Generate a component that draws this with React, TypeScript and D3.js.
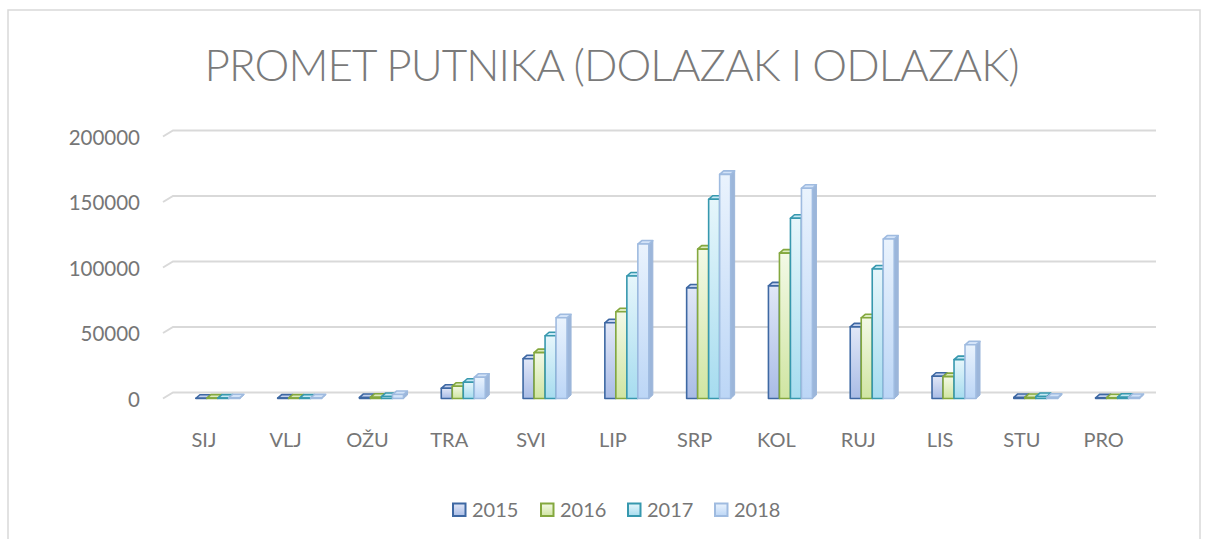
import React from "react";
import * as d3 from "d3";

const months = ["SIJ", "VLJ", "OŽU", "TRA", "SVI", "LIP", "SRP", "KOL", "RUJ", "LIS", "STU", "PRO"];
const years = ["2015", "2016", "2017", "2018"];
const v2015 = [200, 300, 800, 7800, 30400, 57800, 84400, 86000, 54700, 17000, 800, 500];
const v2016 = [300, 300, 900, 9400, 35000, 66200, 114000, 111000, 61600, 16700, 800, 600];
const v2017 = [300, 300, 1500, 12400, 47900, 93500, 152100, 137600, 98900, 29700, 1500, 1000];
const v2018 = [600, 500, 3000, 16200, 61600, 117900, 171100, 160500, 121700, 41000, 900, 800];
const series = [v2015, v2016, v2017, v2018];
const yTicks = [0, 50000, 100000, 150000, 200000];

const styles = [
  { stroke: "#3e68a3", top: "#e1e7f7", bottom: "#a9bce6", side: "#6f8fc4", cap: "#c2d0ee" },
  { stroke: "#84a83f", top: "#f3f9e6", bottom: "#d0e5a2", side: "#a9c76a", cap: "#dcebbd" },
  { stroke: "#3798ae", top: "#e6f6fb", bottom: "#a6dcef", side: "#5fb3c6", cap: "#c5e9f4" },
  { stroke: "#9fbbe0", top: "#eaf3fd", bottom: "#bcd6f6", side: "#9cb6da", cap: "#d3e3f8" },
];

export default function App() {
  const W = 1205, H = 539;
  const frontX0 = 163, frontX1 = 1144.5;
  const depthX = 10, depthY = -6;
  const y = d3.scaleLinear().domain([0, 200000]).range([398.5, 136.5]);
  const x = d3.scaleBand().domain(months).range([frontX0, frontX1]).padding(0);
  const barW = 11, bdx = 4, bdy = -3.5;
  const gray = "#767676";
  const font = "Lato, 'Open Sans', sans-serif";

  return (
    <svg width={W} height={H} style={{ position: "absolute", left: 0, top: 0, background: "#fff" }}>
      <defs>
        {styles.map((s, i) => (
          <linearGradient key={i} id={`g${i}`} x1="0" y1="0" x2="0" y2="1">
            <stop offset="0" stopColor={s.top} />
            <stop offset="1" stopColor={s.bottom} />
          </linearGradient>
        ))}
      </defs>
      <rect x={8} y={10} width={1192} height={540} fill="#fff" stroke="#d9d9d9" strokeWidth={1.5} />
      <text x={612} y={81} textAnchor="middle" fontFamily={font} fontWeight={300} fontSize={44} fill="#7a7a7a"
        textLength={815} lengthAdjust="spacing">PROMET PUTNIKA (DOLAZAK I ODLAZAK)</text>

      {yTicks.map((t) => {
        const yf = y(t);
        return (
          <g key={t}>
            <polyline points={`${frontX0},${yf} ${frontX0 + depthX},${yf + depthY} 1156,${yf + depthY}`}
              fill="none" stroke="#d9d9d9" strokeWidth={2} />
            <text x={140} y={yf + 8} textAnchor="end" fontFamily={font} fontSize={20.5} fill={gray}>{t}</text>
          </g>
        );
      })}

      {months.map((m, ci) => {
        const cx = (x(m) as number) + x.bandwidth() / 2;
        return (
          <g key={m}>
            {series.map((vals, si) => {
              const s = styles[si];
              const x0 = cx - 8 + si * barW;
              const x1 = x0 + barW;
              const yt = y(vals[ci]);
              const yb = y(0);
              return (
                <g key={si} stroke={s.stroke} strokeWidth={1.6} strokeLinejoin="round">
                  <polygon points={`${x1},${yt} ${x1 + bdx},${yt + bdy} ${x1 + bdx},${yb + bdy} ${x1},${yb}`}
                    fill={s.side} stroke={s.side} strokeWidth={1} />
                  <polygon points={`${x0},${yt} ${x0 + bdx},${yt + bdy} ${x1 + bdx},${yt + bdy} ${x1},${yt}`}
                    fill={s.cap} />
                  <rect x={x0} y={yt} width={barW} height={Math.max(0, yb - yt)} fill={`url(#g${si})`} />
                </g>
              );
            })}
            <text x={cx} y={447} textAnchor="middle" fontFamily={font} fontSize={20} fill={gray}>{m}</text>
          </g>
        );
      })}

      {years.map((yr, i) => {
        const lx = [452, 540, 627, 714][i];
        const s = styles[i];
        return (
          <g key={yr}>
            <rect x={lx + 1} y={503.5} width={12.5} height={12.5} fill={`url(#g${i})`} stroke={s.stroke} strokeWidth={2} />
            <text x={lx + 20} y={517} fontFamily={font} fontSize={20} fill={gray}>{yr}</text>
          </g>
        );
      })}
    </svg>
  );
}
